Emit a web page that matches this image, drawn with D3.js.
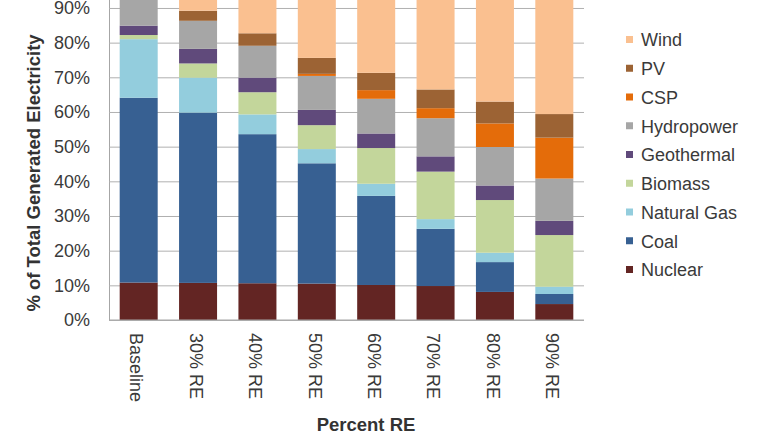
<!DOCTYPE html>
<html>
<head>
<meta charset="utf-8">
<script src="https://cdn.jsdelivr.net/npm/d3@7"></script>
<style>
  body { margin: 0; background: #fff; }
  svg { display: block; font-family: "Liberation Sans", Arial, sans-serif; }
</style>
</head>
<body>
<svg id="chart" width="768" height="432"></svg>
<script>
// categories and series (percent of generated electricity)
var categories = ["Baseline", "30% RE", "40% RE", "50% RE", "60% RE", "70% RE", "80% RE", "90% RE"];
var nuclear    = [10.8, 10.7, 10.6, 10.5, 10.1,  9.8,  8.1,  4.6];
var coal       = [53.3, 49.1, 43.0, 34.7, 25.7, 16.5,  8.6,  2.9];
var naturalGas = [16.9, 10.1,  5.7,  4.1,  3.5,  2.8,  2.7,  2.1];
var biomass    = [ 1.2,  4.1,  6.4,  6.9, 10.3, 13.7, 15.2, 14.9];
var geothermal = [ 2.7,  4.2,  4.2,  4.4,  4.2,  4.4,  4.2,  4.1];
var hydropower = [ 8.0,  8.1,  9.2,  9.8, 10.0, 11.0, 11.1, 12.2];
var csp        = [ 0.1,  0.0,  0.0,  0.6,  2.5,  2.9,  6.8, 11.8];
var pv         = [ 0.6,  2.9,  3.6,  4.6,  5.0,  5.4,  6.3,  6.8];
var wind       = [ 6.4, 10.9, 17.3, 24.4, 28.7, 33.5, 37.0, 40.6];
var yTicks = [0, 10, 20, 30, 40, 50, 60, 70, 80, 90];

// stacking order, bottom to top
var keys = ["Nuclear", "Coal", "Natural Gas", "Biomass", "Geothermal", "Hydropower", "CSP", "PV", "Wind"];
var seriesValues = [nuclear, coal, naturalGas, biomass, geothermal, hydropower, csp, pv, wind];
var colors = ["#632523", "#376092", "#93cddd", "#c3d69b", "#604a7b", "#a6a6a6", "#e46c0a", "#9c6334", "#fac090"];

var rows = categories.map(function(c, i) {
    var row = { category: c };
    keys.forEach(function(k, j) { row[k] = seriesValues[j][i]; });
    return row;
});

var svg = d3.select("#chart");
var plot = { left: 109, right: 584, bottom: 320 };

var x = d3.scaleBand()
    .domain(categories)
    .range([plot.left, plot.right])
    .paddingInner(0.36)
    .paddingOuter(0.18);

// 10% step is ~34.7px, so 100% sits just above the picture
var y = d3.scaleLinear()
    .domain([0, 100])
    .range([plot.bottom, plot.bottom - 346.7]);

var color = d3.scaleOrdinal().domain(keys).range(colors);

// gridlines + tick labels
var yAxis = svg.append("g")
    .attr("transform", "translate(" + plot.left + ",0)")
    .call(d3.axisLeft(y).tickValues(yTicks).tickSize(-(plot.right - plot.left)).tickPadding(19)
        .tickFormat(function(d) { return d + "%"; }));
yAxis.select(".domain").attr("stroke", "#a6a6a6");
yAxis.selectAll(".tick line").attr("stroke", "#b0b0b0");
yAxis.selectAll(".tick text")
    .style("font-size", "18px")
    .attr("fill", "#3a3a3a");

// bars
var stacked = d3.stack().keys(keys)(rows);
svg.append("g")
    .selectAll("g")
    .data(stacked)
    .enter()
    .append("g")
    .attr("fill", function(d) { return color(d.key); })
    .selectAll("rect")
    .data(function(d) { return d; })
    .enter()
    .append("rect")
    .attr("x", function(d) { return x(d.data.category); })
    .attr("y", function(d) { return y(d[1]); })
    .attr("width", x.bandwidth())
    .attr("height", function(d) { return y(d[0]) - y(d[1]); });

// x axis line
svg.append("line")
    .attr("x1", plot.left).attr("x2", plot.right)
    .attr("y1", plot.bottom).attr("y2", plot.bottom)
    .attr("stroke", "#a6a6a6");

// rotated category labels
svg.append("g")
    .selectAll("text")
    .data(categories)
    .enter()
    .append("text")
    .attr("transform", function(d) {
        return "translate(" + (x(d) + x.bandwidth() / 2 - 2) + "," + (plot.bottom + 13) + ") rotate(90)";
    })
    .attr("dy", "0.35em")
    .style("font-size", "18px")
    .attr("fill", "#3a3a3a")
    .text(function(d) { return d; });

// axis titles
svg.append("text")
    .attr("text-anchor", "middle")
    .attr("transform", "translate(40,173) rotate(-90)")
    .style("font-size", "18.5px")
    .style("font-weight", "bold")
    .attr("fill", "#333")
    .text("% of Total Generated Electricity");

svg.append("text")
    .attr("text-anchor", "middle")
    .attr("x", 366)
    .attr("y", 431)
    .style("font-size", "18.5px")
    .style("font-weight", "bold")
    .attr("fill", "#333")
    .text("Percent RE");

// legend, top item is Wind
var legendKeys = keys.slice().reverse();
var legend = svg.append("g")
    .selectAll("g")
    .data(legendKeys)
    .enter()
    .append("g")
    .attr("transform", function(d, i) { return "translate(626," + (40 + i * 28.75) + ")"; });

legend.append("rect")
    .attr("x", 0).attr("y", -4)
    .attr("width", 7).attr("height", 7)
    .attr("fill", function(d) { return color(d); });

legend.append("text")
    .attr("x", 15)
    .attr("dy", "0.35em")
    .style("font-size", "18px")
    .attr("fill", "#3a3a3a")
    .text(function(d) { return d; });
</script>
</body>
</html>
